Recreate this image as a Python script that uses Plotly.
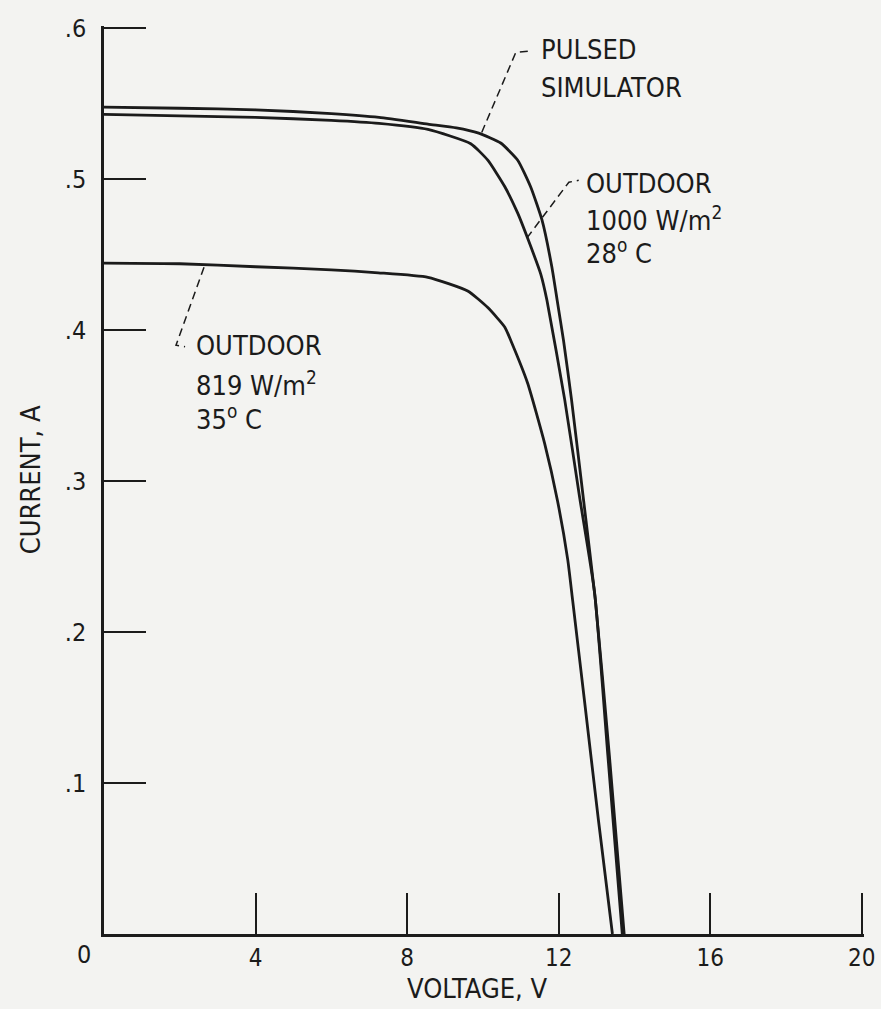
import plotly.graph_objects as go

# ---- data ----
pulsed_v = [0, 2, 4, 6, 7.26, 8.55, 9.3, 9.89, 10.47, 10.92, 11.26, 11.56, 11.82, 11.96, 12.13, 12.34, 12.66, 12.97, 13.34, 13.73]
pulsed_i = [0.5477, 0.547, 0.546, 0.5435, 0.541, 0.5365, 0.534, 0.5305, 0.524, 0.5126, 0.495, 0.473, 0.442, 0.420, 0.393, 0.354, 0.287, 0.221, 0.118, 0.0]

out1000_v = [0, 2, 4, 6, 7.26, 8.55, 9.68, 10.13, 10.58, 10.92, 11.18, 11.53, 11.69, 12.16, 12.55, 12.95, 13.30, 13.68]
out1000_i = [0.543, 0.542, 0.541, 0.539, 0.537, 0.533, 0.5235, 0.5126, 0.495, 0.4775, 0.461, 0.437, 0.420, 0.354, 0.290, 0.226, 0.118, 0.0]

out819_v = [0, 2, 4, 6, 7.24, 8.55, 9.6, 10.13, 10.58, 10.74, 11.18, 11.63, 11.97, 12.24, 12.37, 12.68, 13.05, 13.42]
out819_i = [0.4444, 0.444, 0.442, 0.440, 0.438, 0.435, 0.426, 0.415, 0.402, 0.393, 0.365, 0.325, 0.287, 0.248, 0.221, 0.155, 0.0755, 0.0]

x_ticks = [4, 8, 12, 16, 20]
x_ticktext = ["4", "8", "12", "16", "20"]
y_ticks = [0.1, 0.2, 0.3, 0.4, 0.5, 0.6]
y_ticktext = [".1", ".2", ".3", ".4", ".5", ".6"]

# leader lines (dashed) from curves to labels
lead_pulsed_v = [9.97, 10.87, 11.24]
lead_pulsed_i = [0.531, 0.584, 0.585]
lead_1000_v = [11.16, 12.27, 12.53]
lead_1000_i = [0.461, 0.498, 0.4993]
lead_819_v = [2.64, 1.90, 2.14]
lead_819_i = [0.4417, 0.390, 0.389]

INK = "#1b1b1b"
BG = "#f3f3f1"
FONT = "DejaVu Sans Condensed, DejaVu Sans, sans-serif"

fig = go.Figure()
for v, i in [(pulsed_v, pulsed_i), (out1000_v, out1000_i), (out819_v, out819_i)]:
    fig.add_trace(go.Scatter(x=v, y=i, mode="lines",
                             line=dict(color=INK, width=2.8, shape="spline", smoothing=0.5),
                             showlegend=False, hoverinfo="skip"))
for v, i in [(lead_pulsed_v, lead_pulsed_i), (lead_1000_v, lead_1000_i), (lead_819_v, lead_819_i)]:
    fig.add_trace(go.Scatter(x=v, y=i, mode="lines",
                             line=dict(color=INK, width=1.5, dash="8px,5px"),
                             showlegend=False, hoverinfo="skip"))

labels = [
    (11.48, 0.586, "PULSED"),
    (11.48, 0.5606, "SIMULATOR"),
    (12.66, 0.4974, "OUTDOOR"),
    (12.66, 0.474, "1000 W/m<sup>2</sup>"),
    (12.66, 0.4523, "28<sup>o</sup> C"),
    (2.37, 0.390, "OUTDOOR"),
    (2.37, 0.365, "819 W/m<sup>2</sup>"),
    (2.37, 0.342, "35<sup>o</sup> C"),
]
for x, y, t in labels:
    fig.add_annotation(x=x, y=y, text=t, showarrow=False, xanchor="left", yanchor="middle",
                       font=dict(family=FONT, size=27, color=INK))

# "0" label at the origin (offset left like the reference)
fig.add_annotation(x=0, y=0, text="0", showarrow=False, xanchor="center", yanchor="top",
                   xshift=-20, yshift=-4, font=dict(family=FONT, size=25, color=INK))
# axis titles
fig.add_annotation(xref="paper", yref="paper", x=-0.097, y=0.5, text="CURRENT, A", textangle=-90,
                   showarrow=False, xanchor="center", yanchor="middle",
                   font=dict(family=FONT, size=27, color=INK))
fig.add_annotation(xref="paper", yref="paper", x=0.492, y=-0.0595, text="VOLTAGE, V",
                   showarrow=False, xanchor="center", yanchor="middle",
                   font=dict(family=FONT, size=27, color=INK))

fig.update_xaxes(range=[0, 20.06], tickvals=x_ticks, ticktext=x_ticktext, ticks="inside", ticklen=41,
                 tickwidth=2, tickcolor=INK, showline=True, linewidth=2.5, linecolor=INK,
                 showgrid=False, zeroline=False, ticklabelstandoff=0, automargin=False,
                 tickfont=dict(family=FONT, size=24, color=INK))
fig.update_yaxes(range=[0, 0.6015], tickvals=y_ticks, ticktext=y_ticktext, ticks="inside", ticklen=42,
                 tickwidth=2, tickcolor=INK, showline=True, linewidth=2.5, linecolor=INK,
                 showgrid=False, zeroline=False, ticklabelstandoff=10, automargin=False,
                 tickfont=dict(family=FONT, size=25, color=INK))

fig.update_layout(width=881, height=1009, paper_bgcolor=BG, plot_bgcolor=BG,
                  margin=dict(l=104, r=17, t=26, b=75, autoexpand=False), showlegend=False)

fig.write_html("out.html", config={"displayModeBar": False},
               post_script="document.body.style.margin='0';document.body.style.background='%s';" % BG)
